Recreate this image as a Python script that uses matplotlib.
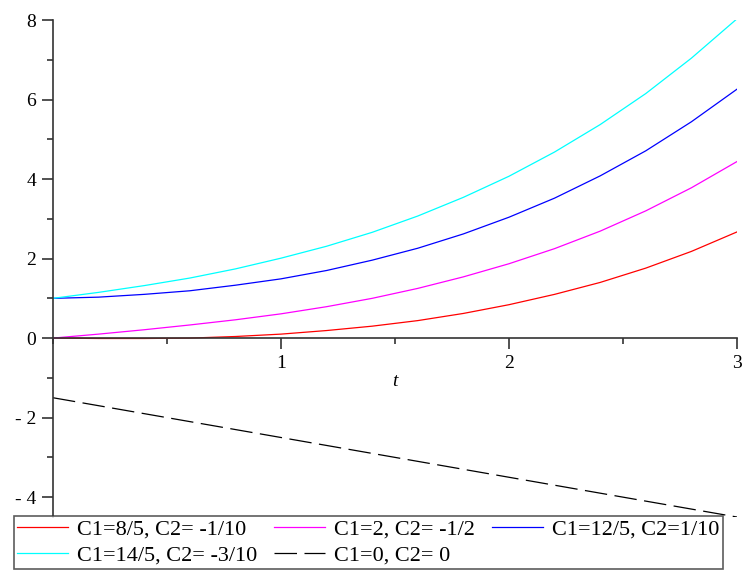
import matplotlib.pyplot as plt
import matplotlib.ticker as ticker

# values, t = 0 .. 3 step 0.2
t = [0.0, 0.2, 0.4, 0.6, 0.8, 1.0, 1.2, 1.4, 1.6, 1.8, 2.0, 2.2, 2.4, 2.6, 2.8, 3.0]
y_red = [0.00, -0.01, -0.01, 0.00, 0.04, 0.10, 0.19, 0.30, 0.44, 0.62, 0.84, 1.10, 1.40, 1.76, 2.18, 2.67]
y_magenta = [0.00, 0.10, 0.21, 0.33, 0.46, 0.61, 0.79, 1.00, 1.25, 1.54, 1.87, 2.25, 2.69, 3.20, 3.78, 4.44]
y_blue = [1.00, 1.03, 1.10, 1.19, 1.33, 1.49, 1.70, 1.96, 2.26, 2.62, 3.04, 3.52, 4.08, 4.71, 5.44, 6.26]
y_cyan = [1.00, 1.15, 1.32, 1.51, 1.74, 2.01, 2.31, 2.66, 3.07, 3.54, 4.07, 4.68, 5.37, 6.15, 7.04, 8.03]
y_black = [-1.5, -1.7, -1.9, -2.1, -2.3, -2.5, -2.7, -2.9, -3.1, -3.3, -3.5, -3.7, -3.9, -4.1, -4.3, -4.5]

labels = ["C1=8/5, C2= -1/10", "C1=2, C2= -1/2", "C1=12/5, C2=1/10",
          "C1=14/5, C2= -3/10", "C1=0, C2= 0"]

plt.rcParams['font.family'] = ['Liberation Serif', 'DejaVu Serif']

fig = plt.figure(figsize=(7.46, 5.85), dpi=100)
ax = fig.add_axes([0.071, 0.1162, 0.9169, 0.8496])

lw = 0.9
l1, = ax.plot(t, y_red, color="red", lw=lw)
l2, = ax.plot(t, y_magenta, color="magenta", lw=lw)
l3, = ax.plot(t, y_blue, color="blue", lw=lw)
l4, = ax.plot(t, y_cyan, color="cyan", lw=lw)
l5, = ax.plot(t, y_black, color="black", lw=lw, dashes=(18, 6))

ax.set_xlim(0, 3)
ax.set_ylim(-4.5, 8)

for s in ["top", "right"]:
    ax.spines[s].set_visible(False)
ax.spines["left"].set_position(("data", 0))
ax.spines["bottom"].set_position(("data", 0))
for s in ["left", "bottom"]:
    ax.spines[s].set_color("#333333")
    ax.spines[s].set_linewidth(1.2)
    ax.spines[s].set_zorder(5)

ax.xaxis.set_major_locator(ticker.FixedLocator([1, 2, 3]))
ax.xaxis.set_minor_locator(ticker.MultipleLocator(0.5))
ax.yaxis.set_major_locator(ticker.MultipleLocator(2))
ax.yaxis.set_minor_locator(ticker.MultipleLocator(1))
ax.yaxis.set_major_formatter(ticker.FuncFormatter(
    lambda v, p: ("- %d" % -v) if v < 0 else "%d" % v))

ax.tick_params(which="major", direction="out", length=8, width=1.2,
               color="#333333", labelsize=14, pad=4)
ax.tick_params(which="minor", direction="out", length=4, width=1.2,
               color="#333333")

ax.text(1.5, -1.1, "t", style="italic", fontsize=14, ha="center", va="center")

# legend rows: red, magenta, blue / cyan, black  (filled column-wise)
leg = fig.legend([l1, l4, l2, l5, l3],
                 [labels[0], labels[3], labels[1], labels[4], labels[2]],
                 ncol=3, loc="lower left",
                 bbox_to_anchor=(0.0188, 0.0274),
                 fontsize=16, frameon=True, fancybox=False,
                 handlelength=2.3, handletextpad=0.4, columnspacing=0.75,
                 labelspacing=0.25, borderpad=0.15, borderaxespad=0)
leg.get_frame().set_edgecolor("#333333")
leg.get_frame().set_linewidth(1.2)

fig.savefig("out.png", dpi=100)
